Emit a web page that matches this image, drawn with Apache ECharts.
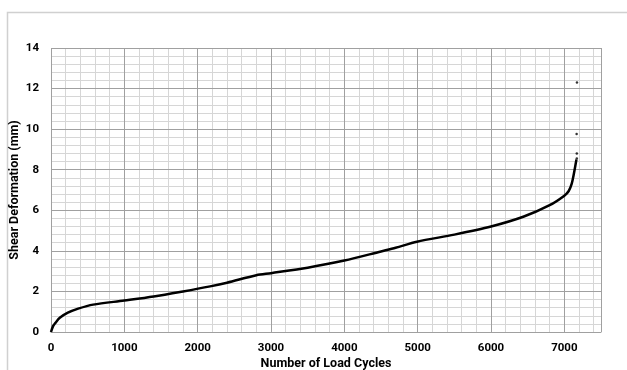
<!DOCTYPE html>
<html>
<head>
<meta charset="utf-8">
<script src="https://cdn.jsdelivr.net/npm/echarts@6/dist/echarts.min.js"></script>
<style>
html,body{margin:0;padding:0;background:#fff;}
#chart{width:627px;height:370px;}
</style>
</head>
<body>
<div id="chart"></div>
<script>
// Number of load cycles (x) and shear deformation in mm (y) along the curve
const cycles = [0, 30, 60, 120, 230, 370, 575, 1000, 1400, 1800, 2170, 2400, 2800, 3000, 3500, 4000, 4500, 4700, 4990, 5500, 6000, 6440, 6800, 7000, 7060, 7100, 7130, 7150, 7165];
const deformation = [0, 0.3, 0.45, 0.7, 0.95, 1.15, 1.35, 1.55, 1.75, 2.0, 2.25, 2.43, 2.8, 2.9, 3.17, 3.52, 3.97, 4.15, 4.45, 4.8, 5.2, 5.68, 6.25, 6.72, 6.95, 7.3, 7.8, 8.2, 8.5];
// isolated readings at the end of the test
const outlierCycles = [7170, 7170, 7168, 7172];
const outlierDeformation = [8.55, 8.8, 9.76, 12.3];
const xTitle = 'Number of Load Cycles';
const yTitle = 'Shear Deformation (mm)';

const lineData = cycles.map((c, i) => [c, deformation[i]]);
const dotData = outlierCycles.map((c, i) => [c, outlierDeformation[i]]);

const font = 'Roboto, "Noto Sans", sans-serif';
const chart = echarts.init(document.getElementById('chart'), null, {renderer: 'canvas'});
chart.setOption({
  animation: false,
  backgroundColor: '#ffffff',
  graphic: [{
    type: 'rect', z: -10, silent: true,
    shape: {x: 7.5, y: 12.5, width: 800, height: 600},
    style: {fill: 'none', stroke: '#d0d0d0', lineWidth: 1.5}
  }],
  grid: {left: 51, right: 26, top: 48, bottom: 38, containLabel: false, outerBoundsMode: 'none'},
  xAxis: [{
    type: 'value', min: 0, max: 7500, interval: 1000, z: 3,
    axisLine: {show: true, lineStyle: {color: '#a0a0a0', width: 1}},
    axisTick: {show: false},
    axisLabel: {color: '#000', fontFamily: font, fontWeight: 'bold', fontSize: 11.5, margin: 10,
      showMaxLabel: false, formatter: v => String(v)},
    splitLine: {show: true, lineStyle: {color: '#a0a0a0', width: 1}},
    name: xTitle, nameLocation: 'middle', nameGap: 25, nameMoveOverlap: false,
    nameTextStyle: {color: '#000', fontFamily: font, fontWeight: 'bold', fontSize: 12.5}
  }, {
    type: 'value', min: 0, max: 7500, interval: 200, position: 'bottom', z: 1,
    axisLine: {show: false}, axisTick: {show: false}, axisLabel: {show: false},
    splitLine: {show: true, lineStyle: {color: '#d6d6d6', width: 1}}
  }],
  yAxis: {
    type: 'value', min: 0, max: 14, interval: 2, z: 2,
    axisLine: {show: false},
    axisTick: {show: false},
    axisLabel: {color: '#000', fontFamily: font, fontWeight: 'bold', fontSize: 11.5, margin: 12,
      formatter: v => String(v)},
    splitLine: {show: true, lineStyle: {color: '#a0a0a0', width: 1}},
    minorTick: {show: false, splitNumber: 5},
    minorSplitLine: {show: true, lineStyle: {color: '#d6d6d6', width: 1}},
    name: yTitle, nameLocation: 'middle', nameGap: 30, nameMoveOverlap: false,
    nameTextStyle: {color: '#000', fontFamily: font, fontWeight: 'bold', fontSize: 12.5}
  },
  series: [{
    type: 'line', xAxisIndex: 0, data: lineData, showSymbol: false, smooth: 0.3,
    lineStyle: {color: '#000', width: 2.5}, z: 5
  }, {
    type: 'scatter', xAxisIndex: 0, data: dotData, symbolSize: 2.5,
    itemStyle: {color: '#000'}, z: 6
  }]
});
</script>
</body>
</html>
